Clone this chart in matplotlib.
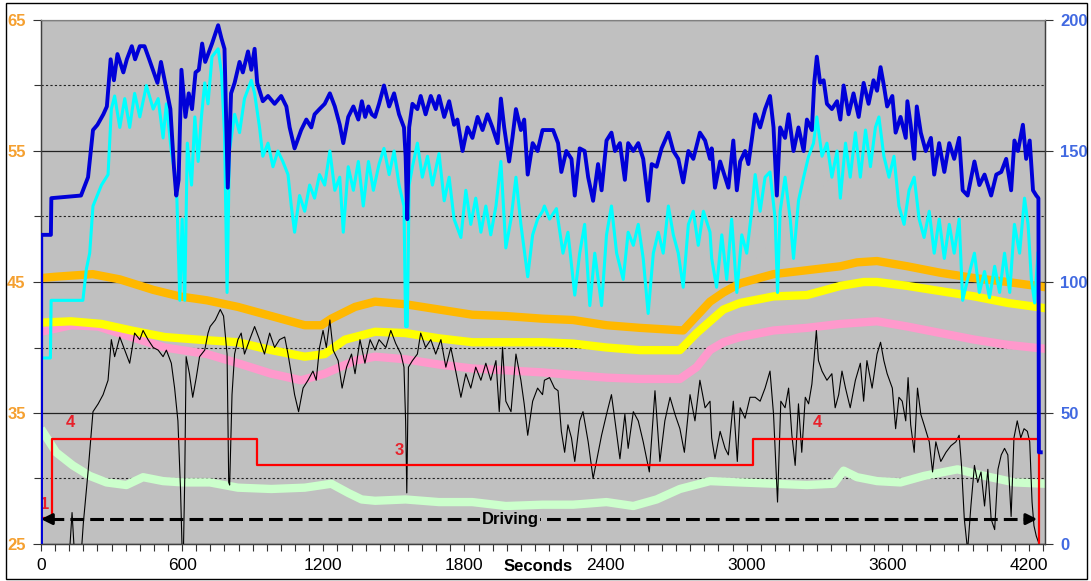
import matplotlib
matplotlib.use("Agg")
import matplotlib.pyplot as plt
from matplotlib.ticker import MultipleLocator
from matplotlib.patches import Rectangle

plt.rcParams['font.family'] = ['Liberation Sans', 'DejaVu Sans']

# ---- speed traces (right axis, 0-200) ----
speed_t = [0, 1, 42, 44, 170, 200, 221, 240, 265, 280, 296, 310, 325, 350, 365, 386, 400, 420, 440, 460,
           495, 510, 530, 550, 565, 575, 585, 597, 614, 628, 642, 657, 671, 685,
           698, 727, 753, 767, 780, 787, 794, 808, 823, 844, 858, 880, 894, 908, 919, 943, 965, 993, 1021,
           1043, 1057, 1078, 1106, 1128, 1149, 1163, 1184, 1206, 1228, 1249, 1270, 1285, 1306, 1328, 1349,
           1364, 1378, 1392, 1406, 1420,
           1437, 1458, 1480, 1501, 1522, 1543, 1550, 1557, 1565, 1579, 1600, 1614, 1635, 1657, 1678, 1692,
           1714, 1735, 1756, 1770, 1792, 1813, 1834, 1856, 1877, 1898, 1919, 1941, 1955, 1969, 1990, 2004,
           2019, 2040, 2054, 2069, 2090, 2111, 2132,
           2148, 2177, 2198, 2212, 2233, 2255, 2269, 2290, 2311, 2326, 2347, 2368, 2383, 2404, 2425, 2440,
           2461, 2482, 2496, 2518, 2539, 2560, 2581, 2596, 2617, 2638, 2667, 2688, 2709, 2730, 2752, 2773,
           2801, 2823, 2844,
           2851, 2865, 2887, 2908, 2922, 2943, 2958, 2972, 2993, 3007, 3021, 3036, 3057, 3078, 3099, 3114,
           3128, 3142, 3163, 3178, 3199, 3220, 3242, 3256, 3277, 3287, 3298, 3312, 3327, 3341, 3362, 3384,
           3398, 3412, 3433, 3454, 3476, 3497, 3518, 3539, 3554,
           3569, 3583, 3597, 3619, 3633, 3654, 3676, 3683, 3697, 3712, 3723, 3740, 3761, 3783, 3797, 3818,
           3840, 3861, 3882, 3903, 3918, 3939, 3968, 3989, 4011, 4039, 4061, 4082, 4103, 4124, 4138, 4153,
           4174, 4188, 4203, 4217, 4231, 4240, 4242, 4250]
speed = [0, 118, 118, 132, 133, 140, 158, 160, 164, 167, 185, 177, 187, 180, 185, 190, 185, 190, 190, 185,
         176, 184, 175, 166, 144, 133, 139, 181, 163, 172, 166, 180, 181, 191,
         184, 191, 198, 193, 189, 163, 136, 172, 176, 184, 180, 188, 181, 189, 176, 169, 171, 168, 171,
         167, 159, 151, 158, 162, 159, 164, 166, 168, 172, 167, 160, 153, 163, 167, 162,
         169, 163, 167, 164, 163,
         168, 175, 167, 172, 164, 159, 148, 124, 159, 168, 166, 171, 164, 171, 166, 171,
         163, 169, 160, 162, 150, 159, 155, 163, 158, 164, 159, 153, 170, 159, 146, 155,
         166, 158, 162, 141, 153, 150, 158,
         158, 158, 153, 142, 150, 147, 133, 151, 150, 140, 131, 145, 135, 154, 157, 150,
         153, 139, 153, 150, 153, 147, 131, 145, 144, 151, 157, 150, 147, 138, 150, 147,
         157, 154, 147,
         151, 136, 146, 140, 136, 154, 135, 146, 150, 145, 154, 164, 159, 166, 171, 159,
         133, 159, 155, 164, 150, 159, 150, 162, 158, 176, 186, 176, 177, 168, 166, 169,
         162, 175, 164, 172, 163, 176, 168, 177, 173,
         182, 175, 167, 171, 157, 163, 155, 169, 160, 147, 167, 157, 150, 155, 141, 153,
         142, 153, 147, 155, 135, 133, 146, 137, 141, 133, 141, 142, 147, 135, 154, 150,
         160, 147, 154, 135, 133, 132, 35, 35]

target_t = [0, 2, 40, 43, 178, 193, 207, 221, 257, 285, 299, 313, 335, 356, 377, 398, 420, 448, 477, 498,
            519, 533, 554, 576, 590, 600, 611, 622, 640, 654, 668, 682, 696, 710,
            727, 753, 767, 780, 791, 801, 823, 844, 865, 894, 908, 929, 943, 965, 986, 1007, 1028, 1050,
            1064, 1078, 1099, 1121, 1142, 1163, 1184, 1206, 1228, 1249, 1270, 1285, 1306, 1328, 1349, 1370,
            1392, 1413,
            1437, 1458, 1480, 1501, 1522, 1543, 1550, 1557, 1565, 1579, 1600, 1621, 1643, 1664, 1692, 1714,
            1735, 1756, 1785, 1806, 1827, 1848, 1870, 1891, 1912, 1934, 1955, 1976, 1998, 2019, 2040, 2069,
            2090, 2111, 2132,
            2140, 2162, 2191, 2219, 2240, 2269, 2290, 2311, 2333, 2354, 2383, 2404, 2425, 2447, 2475, 2496,
            2518, 2539, 2560, 2581, 2603, 2624, 2645, 2667, 2688, 2709, 2730, 2752, 2773, 2794, 2816, 2844,
            2851, 2872, 2894, 2915, 2936, 2958, 2979, 3000, 3021, 3036, 3057, 3078, 3099, 3121, 3131, 3142,
            3163, 3185, 3199, 3220, 3242, 3263, 3284, 3298, 3320, 3341, 3362, 3384, 3398, 3420, 3440, 3462,
            3483, 3505, 3526, 3547,
            3562, 3583, 3605, 3626, 3647, 3669, 3690, 3712, 3733, 3754, 3776, 3797, 3818, 3840, 3861, 3882,
            3903, 3918, 3939, 3968, 3989, 4011, 4032, 4054, 4075, 4096, 4118, 4138, 4160, 4181, 4196, 4210,
            4224, 4238]
target = [0, 71, 71, 93, 93, 105, 111, 129, 137, 141, 166, 171, 159, 170, 159, 172, 163, 175, 166, 170,
          155, 168, 150, 137, 93, 124, 93, 153, 137, 163, 146, 163, 176, 168,
          186, 189, 180, 157, 96, 150, 164, 157, 170, 177, 172, 159, 148, 153, 144, 150, 146, 141,
          129, 119, 133, 127, 137, 132, 141, 137, 150, 135, 140, 119, 144, 135, 146, 129,
          146, 135,
          145, 151, 141, 150, 137, 129, 83, 83, 137, 144, 153, 140, 148, 137, 149, 131,
          140, 124, 117, 135, 122, 132, 119, 129, 118, 129, 146, 113, 124, 140, 122, 102,
          118, 124, 127,
          129, 124, 128, 111, 119, 95, 111, 122, 91, 111, 91, 118, 129, 111, 101, 119,
          114, 122, 109, 88, 111, 119, 111, 129, 118, 111, 98, 122, 127, 114, 127, 119,
          109, 98, 118, 101, 124, 96, 118, 111, 127, 141, 127, 140, 142, 124, 96, 127,
          140, 124, 109, 131, 140, 148, 153, 163, 148, 153, 140, 150, 132, 153, 140, 157,
          140, 158, 144, 159,
          163, 148, 140, 148, 129, 122, 135, 140, 124, 117, 127, 111, 124, 109, 122, 111,
          124, 93, 101, 111, 96, 104, 94, 106, 96, 111, 96, 122, 111, 132, 122, 101,
          92, 111]

# ---- noisy trace on left axis ----
trace_t = [120, 132, 143, 170, 180, 200, 221, 243, 264, 285, 299, 313, 335, 356, 377, 398, 420, 434, 455, 477,
           498, 519, 533, 554, 568, 582, 593, 600, 605, 611, 617, 631, 645, 660, 674, 696, 710,
           719, 741, 762, 776, 791, 798, 802, 812, 823, 837, 851, 865, 887, 908, 929, 950, 972, 993, 1014,
           1036, 1050, 1064, 1078, 1095, 1114, 1135, 1156, 1170, 1184, 1199, 1213, 1228, 1242, 1263, 1280,
           1299, 1320, 1335, 1356, 1377, 1399, 1420,
           1437, 1466, 1487, 1508, 1530, 1543, 1550, 1555, 1562, 1579, 1600, 1614, 1635, 1657, 1678, 1700,
           1721, 1742, 1763, 1785, 1806, 1827, 1848, 1870, 1891, 1912, 1934, 1948, 1962, 1976, 1998, 2019,
           2040, 2054, 2069, 2090, 2111, 2132,
           2140, 2162, 2183, 2198, 2212, 2226, 2240, 2255, 2269, 2290, 2304, 2326, 2347, 2361, 2383, 2404,
           2425, 2440, 2461, 2482, 2496, 2518, 2539, 2560, 2586, 2610, 2631, 2652, 2674, 2695, 2716, 2735,
           2759, 2780, 2801, 2823, 2844,
           2851, 2865, 2887, 2908, 2922, 2943, 2960, 2972, 2993, 3014, 3036, 3057, 3078, 3099, 3114, 3131,
           3145, 3163, 3178, 3192, 3206, 3220, 3234, 3249, 3263, 3277, 3287, 3296, 3305, 3320, 3341, 3362,
           3376, 3391, 3405, 3420, 3440, 3462, 3483, 3497, 3511, 3533, 3554,
           3569, 3583, 3597, 3619, 3633, 3647, 3661, 3676, 3686, 3697, 3712, 3726, 3740, 3754, 3776, 3790,
           3804, 3825, 3847, 3868, 3889, 3903, 3913, 3925, 3939, 3953, 3968, 3982, 3996, 4011, 4025, 4039,
           4054, 4068, 4082, 4096, 4110, 4124, 4136, 4150, 4165, 4179, 4193, 4203, 4213, 4221, 4231, 4241]
trace = [24, 27.4, 24, 24, 26.6, 30.5, 35.1, 35.7, 36.4, 37.5, 40.6, 39.3, 40.8, 39.8, 38.8, 41.1, 40.6, 41.3, 40.6, 40.0,
         39.8, 39.3, 39.8, 38.8, 36.9, 34.4, 29.2, 24.5, 24, 30.0, 39.3, 38.0, 36.2, 37.7, 39.3, 39.8, 41.1,
         41.6, 42.1, 42.9, 42.4, 39.5, 29.7, 29.5, 36.4, 39.5, 40.6, 41.1, 39.5, 40.6, 41.6, 40.6, 39.5, 41.1, 40.0, 40.6,
         40.8, 39.5, 38.0, 36.4, 35.1, 36.9, 37.5, 38.2, 37.5, 40.0, 41.3, 40.0, 42.1, 39.8, 39.0, 36.9,
         38.5, 39.5, 38.0, 40.6, 38.8, 40.6, 39.8,
         40.6, 40.0, 41.3, 40.3, 39.5, 38.5, 34.4, 28.9, 38.5, 39.0, 39.5, 41.1, 40.0, 40.6, 39.5, 40.6,
         38.5, 40.0, 38.2, 36.2, 38.0, 36.9, 38.5, 37.5, 38.8, 37.5, 39.0, 35.1, 40.0, 35.9, 35.1, 39.5,
         37.5, 35.7, 33.3, 35.9, 36.9, 36.4,
         37.5, 37.7, 36.9, 36.7, 33.6, 32.0, 34.1, 33.1, 31.3, 34.4, 35.1, 32.8, 30.0, 31.3, 33.3, 34.9,
         36.4, 34.4, 31.5, 34.9, 32.3, 35.1, 34.4, 32.8, 30.5, 36.7, 31.3, 34.4, 36.2, 34.9, 33.8, 32.0,
         36.4, 34.4, 37.5, 35.4, 35.9,
         33.1, 31.5, 33.6, 32.3, 31.8, 35.9, 31.3, 35.4, 34.6, 36.2, 36.2, 35.9, 36.9, 38.2, 34.9, 28.2,
         35.9, 35.4, 36.9, 33.3, 31.0, 35.7, 32.0, 36.2, 35.7, 37.2, 39.3, 41.3, 39.0, 38.2, 37.5, 38.0,
         35.4, 36.4, 38.2, 36.9, 35.4, 37.5, 38.8, 35.9, 39.0, 36.9, 39.5,
         40.4, 39.0, 38.0, 36.9, 33.8, 36.2, 35.9, 34.4, 37.7, 34.1, 32.0, 36.9, 34.9, 34.1, 32.8, 30.5,
         32.8, 31.3, 32.0, 32.5, 32.8, 33.3, 31.0, 26.9, 24.5, 27.9, 31.0, 29.7, 30.5, 27.9, 30.7, 26.9,
         26.1, 30.7, 31.8, 32.3, 31.8, 27.1, 33.1, 34.4, 33.1, 33.8, 33.6, 32.8, 28.2, 26.4, 25.6, 25.1]

# ---- smooth temperature bands (left axis) ----
orange_t = [0, 60, 220, 335, 477, 590, 706, 837, 979, 1121, 1192, 1234, 1335, 1420, 1550, 1692, 1834, 1976,
            2132, 2262, 2404, 2546, 2730, 2787, 2844, 2901, 2972, 3114, 3256, 3398, 3469, 3554, 3683, 3825,
            3968, 4110, 4270]
orange = [45.3, 45.4, 45.6, 45.2, 44.4, 43.9, 43.6, 43.1, 42.4, 41.7, 41.7, 42.2, 43.1, 43.5, 43.3, 42.9, 42.5, 42.4,
          42.2, 42.1, 41.7, 41.5, 41.3, 42.4, 43.5, 44.2, 44.9, 45.6, 45.9, 46.2, 46.5, 46.6, 46.2, 45.7,
          45.3, 45.0, 44.6]

yellow_t = [0, 128, 257, 384, 526, 668, 837, 979, 1121, 1206, 1292, 1420, 1550, 1692, 1834, 2132, 2262, 2404,
            2546, 2716, 2787, 2844, 2901, 2972, 3114, 3256, 3398, 3497, 3554, 3683, 3825, 3968, 4110, 4270]
yellow = [41.9, 42.0, 41.8, 41.3, 40.8, 40.6, 40.4, 39.8, 39.3, 39.5, 40.6, 41.2, 41.1, 40.7, 40.4, 40.4, 40.3, 40.0,
          39.8, 39.8, 41.1, 42.0, 42.9, 43.4, 43.9, 44.0, 44.7, 45.0, 45.0, 44.7, 44.3, 43.9, 43.4, 43.0]

pink_t = [0, 128, 243, 384, 526, 706, 837, 979, 1106, 1206, 1335, 1420, 1550, 1692, 1834, 2132, 2262, 2404,
          2546, 2716, 2787, 2844, 2901, 2972, 3114, 3256, 3398, 3554, 3683, 3825, 3968, 4110, 4270]
pink = [41.2, 41.7, 41.6, 40.8, 40.0, 39.5, 38.8, 38.0, 37.5, 38.0, 39.0, 39.3, 39.1, 38.7, 38.4, 38.1, 37.9, 37.7,
        37.6, 37.6, 38.5, 39.8, 40.4, 40.8, 41.3, 41.5, 41.8, 42.0, 41.6, 41.1, 40.6, 40.2, 39.9]

green_t = [0, 64, 135, 207, 278, 363, 434, 519, 604, 718, 837, 979, 1121, 1234, 1306, 1363, 1420, 1550, 1692,
           1834, 1976, 2132, 2262, 2404, 2518, 2617, 2716, 2844, 2972, 3114, 3256, 3370, 3412, 3469, 3554,
           3654, 3754, 3896, 4011, 4138, 4270]
green = [33.8, 32.0, 31.0, 30.2, 29.7, 29.5, 30.1, 29.8, 29.7, 29.7, 29.3, 29.2, 29.3, 29.6, 28.9, 28.4, 28.3, 28.4, 28.2,
         28.2, 27.9, 28.0, 28.0, 28.2, 27.9, 28.4, 29.2, 29.8, 29.7, 29.6, 29.5, 29.6, 30.6, 30.1, 29.8,
         29.7, 30.2, 30.7, 30.2, 29.7, 29.6]

# ---- gear steps ----
gear_t = [0, 45, 918, 3025, 4242]
gear = [1, 4, 3, 4, 0]

x_ticks = [0, 600, 1200, 1800, 2400, 3000, 3600, 4200]
left_ticks = [25, 35, 45, 55, 65]
left_minor = [30, 40, 50, 60]
right_ticks = [0, 50, 100, 150, 200]

fig = plt.figure(figsize=(10.91, 5.81), dpi=100)
ax = fig.add_axes([41 / 1091, 1 - 544 / 581, (1045 - 41) / 1091, (544 - 20) / 581])
ax.set_facecolor('#C0C0C0')
ax.set_xlim(0, 4268)
ax.set_ylim(25, 65)

ax.set_yticks(left_ticks)
ax.set_yticks(left_minor, minor=True)
ax.grid(which='major', axis='y', color='#222222', lw=0.9, zorder=0)
ax.grid(which='minor', axis='y', color='#222222', lw=0.8, ls=(0, (2, 2)), zorder=0)
ax.set_axisbelow(True)

ax.set_xticks(x_ticks)
ax.xaxis.set_minor_locator(MultipleLocator(60))
ax.tick_params(axis='x', which='both', direction='out', length=5, width=0.8, color='#333333',
               labelsize=12.5, pad=5)
ax.tick_params(axis='y', which='major', direction='out', length=6, width=0.8, color='#333333',
               labelsize=12, labelcolor='#F5A030', pad=5)
ax.tick_params(axis='y', which='minor', direction='out', length=5, width=0.8, color='#333333')
for lab in ax.get_yticklabels():
    lab.set_fontweight('bold')

ax.plot(green_t, green, color='#CCFFCC', lw=6, solid_capstyle='butt', zorder=2)
ax.plot(pink_t, pink, color='#FF99CC', lw=6, solid_capstyle='butt', zorder=2)
ax.plot(yellow_t, yellow, color='#FFFF00', lw=6, solid_capstyle='butt', zorder=2.1)
ax.plot(orange_t, orange, color='#FFB800', lw=6, solid_capstyle='butt', zorder=2.2)
ax.plot(trace_t, trace, color='black', lw=0.8, zorder=3)
ax.step(gear_t, [25 + 2 * g for g in gear], where='post', color='#FF0000', lw=1.6, zorder=4)

gear_labels = [('1', 15, 28.0), ('4', 125, 34.3), ('3', 1525, 32.1), ('4', 3300, 34.3)]
for txt, gx, gy in gear_labels:
    ax.text(gx, gy, txt, color='#E8202A', fontsize=12, fontweight='bold', ha='center', va='center', zorder=5)

# driving period arrow
drive_y = 26.9
ax.plot([40, 4195], [drive_y, drive_y], color='black', lw=2.2, ls=(0, (4.5, 2)), zorder=4)
for tip, tail in [(0, 45), (4235, 4190)]:
    ax.annotate('', xy=(tip, drive_y), xytext=(tail, drive_y),
                arrowprops=dict(arrowstyle='-|>', color='black', lw=2.2, mutation_scale=16,
                                shrinkA=0, shrinkB=0), zorder=4)
ax.text(1994, drive_y, 'Driving', fontsize=12, fontweight='bold', ha='center', va='center', zorder=5,
        bbox=dict(facecolor='#C0C0C0', edgecolor='none', pad=1))

ax.set_xlabel('Seconds', fontsize=12, fontweight='bold')
ax.xaxis.set_label_coords(0.495, -0.028)

ax2 = ax.twinx()
ax2.set_ylim(0, 200)
ax2.set_yticks(right_ticks)
ax2.tick_params(axis='y', direction='out', length=6, width=0.8, color='#333333',
                labelsize=12, labelcolor='#4169E1', pad=5)
for lab in ax2.get_yticklabels():
    lab.set_fontweight('bold')
ax2.plot(target_t, target, color='#00FFFF', lw=2.2, zorder=2)
ax2.plot(speed_t, speed, color='#0000D8', lw=2.8, zorder=3)

for a in (ax, ax2):
    for side in ('left', 'right', 'bottom'):
        a.spines[side].set_color('#404040')
        a.spines[side].set_linewidth(0.9)
    a.spines['top'].set_color('#808080')

fig.patches.append(Rectangle((6 / 1091, 2 / 581), (1087 - 6) / 1091, (579 - 3) / 581,
                             transform=fig.transFigure, fill=False, edgecolor='black', lw=1))

fig.savefig('out.png', dpi=100, facecolor='white')
